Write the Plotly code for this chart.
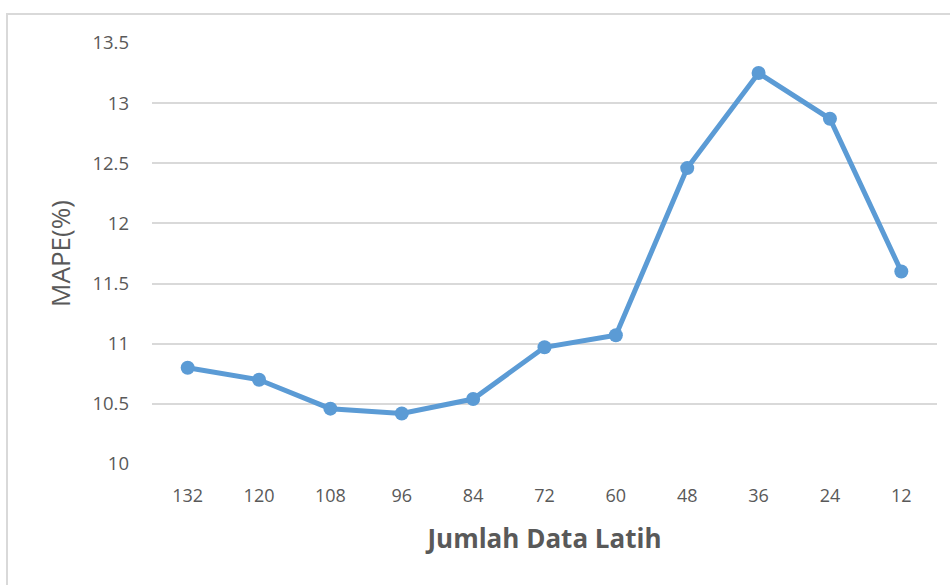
import plotly.graph_objects as go

categories = ["132", "120", "108", "96", "84", "72", "60", "48", "36", "24", "12"]
mape = [10.80, 10.70, 10.46, 10.42, 10.54, 10.97, 11.07, 12.46, 13.25, 12.87, 11.60]
y_ticks = [10, 10.5, 11, 11.5, 12, 12.5, 13, 13.5]
y_labels = ["10", "10.5", "11", "11.5", "12", "12.5", "13", "13.5"]

color = "#5B9BD5"
font = "Open Sans"

fig = go.Figure()
fig.add_trace(go.Scatter(
    x=categories, y=mape, mode="lines+markers",
    line=dict(color=color, width=5),
    marker=dict(color=color, size=14),
    showlegend=False,
))

fig.update_layout(
    width=950, height=585,
    margin=dict(l=152, r=13, t=43, b=121),
    paper_bgcolor="white", plot_bgcolor="white",
    font=dict(family=font, color="#595959", size=16),
    xaxis=dict(
        type="category", range=[-0.5, 10.5], showgrid=False, zeroline=False, showline=False,
        ticks="", ticklabelstandoff=19,
        tickfont=dict(size=18, color="#595959"),
        title=dict(text="<b>Jumlah Data Latih</b>", font=dict(size=26, color="#595959"), standoff=23),
    ),
    yaxis=dict(
        range=[10, 13.5], tickvals=y_ticks, ticktext=y_labels,
        showgrid=True, gridcolor="#D9D9D9", gridwidth=1.5, zeroline=False,
        showline=False, ticks="", ticklabelstandoff=22,
        tickfont=dict(size=18.5, color="#595959"),
        title=dict(text="MAPE(%)", font=dict(size=26, color="#595959"), standoff=14),
    ),
    shapes=[dict(type="rect", xref="paper", yref="paper",
                 x0=-145/785, x1=1.05, y0=-0.5, y1=1 + 29/421,
                 line=dict(color="#D9D9D9", width=2), layer="below")],
)

fig.write_html(
    "out.html",
    config={"displayModeBar": False},
    post_script="document.body.style.margin='0';document.body.style.overflow='hidden';",
)
